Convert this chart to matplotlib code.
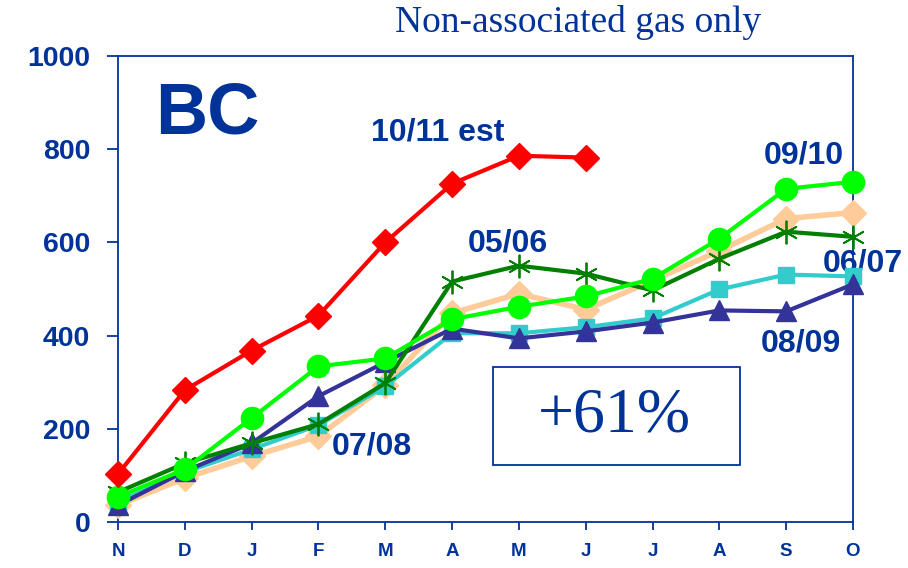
import matplotlib
matplotlib.use("Agg")
import matplotlib.pyplot as plt
from matplotlib.patches import Rectangle

# mois (nov -> oct)
mois = ["N", "D", "J", "F", "M", "A", "M", "J", "J", "A", "S", "O"]

# valeurs
s_1011 = [103, 283, 368, 443, 600, 726, 786, 782]
s_0910 = [54, 113, 223, 334, 351, 435, 462, 484, 522, 608, 715, 730]
s_0506 = [64, 126, 169, 210, 298, 516, 550, 533, 497, 565, 623, 612]
s_0708 = [36, 94, 141, 184, 293, 448, 490, 456, 518, 582, 651, 664]
s_0607 = [43, 107, 156, 208, 291, 405, 405, 418, 437, 499, 531, 527]
s_0809 = [36, 109, 169, 270, 343, 415, 394, 409, 428, 454, 452, 510]

BLEU = "#003399"

fig = plt.figure(figsize=(9.08, 5.68), dpi=100)
ax = fig.add_axes([0.130, 0.081, 0.8094, 0.8204])

x = list(range(len(mois)))

ax.plot(x, s_0708, color="#FFCC99", lw=4, marker="D", ms=13, clip_on=False, zorder=3)
ax.plot(x, s_0607, color="#33CCCC", lw=3, marker="s", ms=11, clip_on=False, zorder=4)
ax.plot(x, s_0809, color="#333399", lw=3, marker="^", ms=15, clip_on=False, zorder=5)
ax.plot(x, s_0506, color="#007F00", lw=3, marker=(6, 2, 0), ms=17, mew=1.3,
        clip_on=False, zorder=6)
ax.plot(x, s_0910, color="#00FF00", lw=3, marker="o", ms=16, clip_on=False, zorder=7)
ax.plot(x[:len(s_1011)], s_1011, color="#FF0000", lw=3, marker="D", ms=13,
        clip_on=False, zorder=8)

ax.set_xlim(0, 11)
ax.set_ylim(0, 1000)
ax.set_xticks(x)
ax.set_xticklabels(mois)
ax.set_yticks([0, 200, 400, 600, 800, 1000])

for sp in ax.spines.values():
    sp.set_color(BLEU)
    sp.set_linewidth(1.3)
ax.tick_params(axis="y", colors=BLEU, length=8, width=1.3, pad=12,
               labelsize=20.5)
ax.tick_params(axis="x", colors=BLEU, length=6, width=1.3, pad=9,
               labelsize=13.5)
for lab in ax.get_xticklabels() + ax.get_yticklabels():
    lab.set_fontweight("bold")
    lab.set_fontfamily("Liberation Sans")

etiq = dict(color=BLEU, fontsize=23, fontweight="bold",
            fontfamily="Liberation Sans", ha="center", va="center")
ax.text(4.78, 835, "10/11 est", **etiq)
ax.text(5.84, 597, "05/06", **etiq)
ax.text(10.27, 786, "09/10", **etiq)
ax.text(11.14, 555, "06/07", clip_on=False, **etiq)
ax.text(10.22, 383, "08/09", **etiq)
ax.text(3.80, 163, "07/08", **etiq)

ax.text(0.121, 0.875, "BC", transform=ax.transAxes, color=BLEU, fontsize=52,
        fontweight="bold", fontfamily="Liberation Sans", ha="center", va="center")

ax.add_patch(Rectangle((0.510, 0.122), 0.336, 0.211, transform=ax.transAxes,
                       fill=False, edgecolor=BLEU, lw=1.3))
ax.text(0.676, 0.227, "+61%", transform=ax.transAxes, color=BLEU, fontsize=46,
        fontfamily="Liberation Serif", ha="center", va="center")

fig.text(578 / 908, 1 - 22 / 568, "Non-associated gas only", color=BLEU,
         fontsize=27, fontfamily="Liberation Serif", ha="center", va="center")

fig.savefig("out.png", dpi=100)
